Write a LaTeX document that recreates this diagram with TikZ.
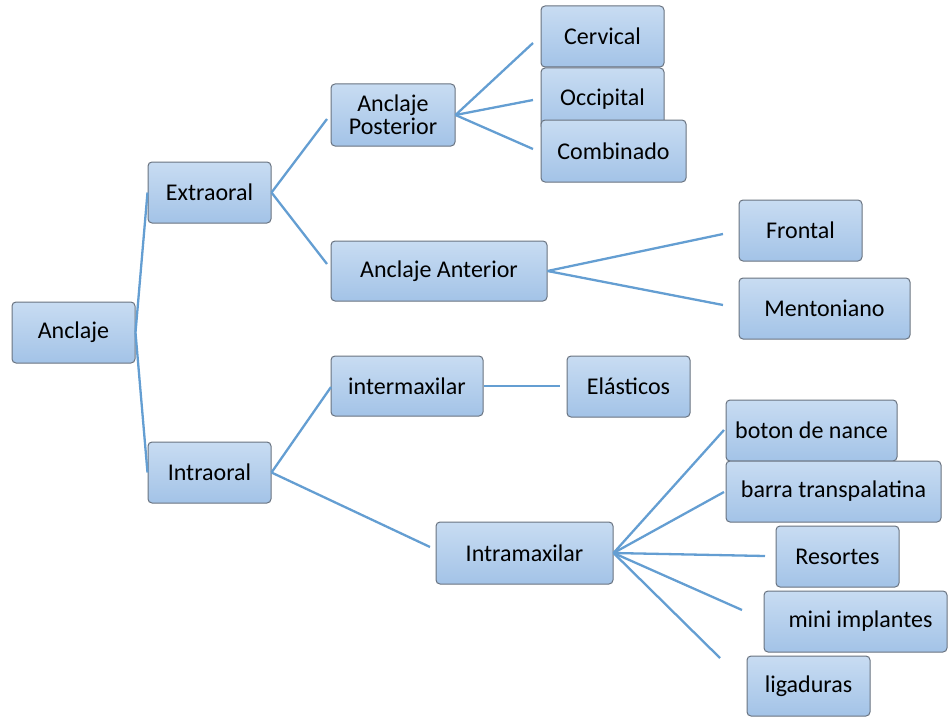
\documentclass[tikz,border=0pt]{standalone}
\usepackage{fontspec}
\setmainfont{Carlito}
\definecolor{boxtop}{RGB}{200,220,242}
\definecolor{boxbot}{RGB}{163,195,231}
\definecolor{boxline}{RGB}{105,115,128}
\definecolor{conn}{RGB}{100,158,210}
\tikzset{
  box/.style={draw=boxline, line width=1pt, rounded corners=4pt, top color=boxtop, bottom color=boxbot,
    align=center, inner sep=0pt, font=\fontsize{24}{23.5}\selectfont},
  link/.style={draw=conn, line width=2.3pt},
}
\begin{document}
\begin{tikzpicture}[x=1pt,y=-1pt]
\useasboundingbox (0,0) rectangle (948,717);
% nodes
\node[box, minimum width=123, minimum height=61] (anc) at (73.5,332.5) {Anclaje};
\node[box, minimum width=123, minimum height=61] (ext) at (209.5,192.5) {Extraoral};
\node[box, minimum width=123, minimum height=61] (int) at (209.5,472.5) {Intraoral};
\node[box, minimum width=124, minimum height=62] (post) at (393,115) {Anclaje\\Posterior};
\node[box, minimum width=216, minimum height=60] (ant) at (439,271) {Anclaje Anterior};
\node[box, minimum width=123, minimum height=61] (cerv) at (602.5,36.5) {Cervical};
\node[box, minimum width=123, minimum height=62] (occ) at (602.5,99) {Occipital};
\node[box, minimum width=145, minimum height=62] (comb) at (613.5,151) {Combinado};
\node[box, minimum width=123, minimum height=61] (fron) at (800.5,230.5) {Frontal};
\node[box, minimum width=171, minimum height=61] (ment) at (824.5,308.5) {Mentoniano};
\node[box, minimum width=152, minimum height=60] (inter) at (407,386) {intermaxilar};
\node[box, minimum width=123, minimum height=61] (elas) at (628.5,386.5) {Elásticos};
\node[box, minimum width=177, minimum height=62] (intra) at (524.5,553) {Intramaxilar};
\node[box, minimum width=171, minimum height=61] (boton) at (811.5,430.5) {boton de nance};
\node[box, minimum width=215, minimum height=61] (barra) at (833.5,491.5) {barra transpalatina};
\node[box, minimum width=123, minimum height=61] (res) at (837.5,556.5) {Resortes};
\node[box, minimum width=183, minimum height=61] (mini) at (855.5,621.5) {\hspace{10pt}mini implantes};
\node[box, minimum width=123, minimum height=60] (liga) at (808.5,686) {ligaduras};
% free ends
\coordinate (e1) at (327,119);
\coordinate (e2) at (327,264);
\coordinate (p1) at (533,43);
\coordinate (p2) at (533,100);
\coordinate (p3) at (533,149);
\coordinate (a1) at (723,234);
\coordinate (a2) at (723,305);
\coordinate (i1) at (331,387);
\coordinate (i2) at (430,547);
\coordinate (m0) at (560,386);
\coordinate (r1) at (724,430);
\coordinate (r2) at (724,492);
\coordinate (r3) at (765,556);
\coordinate (r4) at (742,610);
\coordinate (r5) at (720,658);
% connectors
\draw[link] (anc.east) -- (ext.west);
\draw[link] (anc.east) -- (int.west);
\draw[link] (ext.east) -- (e1);
\draw[link] (ext.east) -- (e2);
\draw[link] (post.east) -- (p1);
\draw[link] (post.east) -- (p2);
\draw[link] (post.east) -- (p3);
\draw[link] (ant.east) -- (a1);
\draw[link] (ant.east) -- (a2);
\draw[link] (int.east) -- (i1);
\draw[link] (int.east) -- (i2);
\draw[link] (inter.east) -- (m0);
\draw[link] (intra.east) -- (r1);
\draw[link] (intra.east) -- (r2);
\draw[link] (intra.east) -- (r3);
\draw[link] (intra.east) -- (r4);
\draw[link] (intra.east) -- (r5);
\end{tikzpicture}
\end{document}
